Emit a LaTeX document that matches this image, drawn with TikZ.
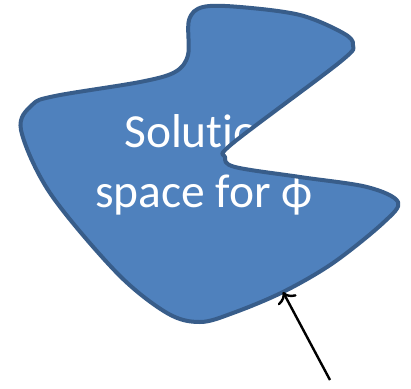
\documentclass[tikz,border=0pt]{standalone}
\usepackage{fontspec}
\setmainfont{Carlito}[RawFeature=-liga]
\usetikzlibrary{arrows.meta}
\definecolor{blobfill}{HTML}{4F81BD}
\definecolor{blobline}{HTML}{385D8A}
\tikzset{
  blobfillstyle/.style={fill=blobfill},
  bloblinestyle/.style={draw=blobline, line width=4pt, line join=round},
  lbl/.style={text=white, font=\fontsize{47.5}{60}\selectfont, anchor=base, inner sep=0pt},
  pointer/.style={line width=2.4pt, -{To[length=10pt,width=21pt,line width=2.4pt]}}
}
\begin{document}
\begin{tikzpicture}[x=1pt,y=-1pt]
\useasboundingbox (0,0) rectangle (411,388);
\def\blobpath{plot[smooth cycle, tension=0.55] coordinates {
(203,7) (240,7) (300,15) (343,33) (353,45) (340,62) (233,143) (225,157)
(235,167) (300,177) (367,187) (398,202) (383,223) (333,263) (283,292)
(233,313) (200,322) (167,313) (117,273) (50,193) (21,130) (32,105)
(55,96) (140,82) (175,72) (188,55) (189,20)}}
\fill[blobfillstyle] \blobpath;
\node[lbl] (line1) at (204,147) {Solution};
\node[lbl] (line2) at (204,207) {space for ϕ};
\draw[bloblinestyle] \blobpath;
\coordinate (tail) at (330,380);
\coordinate (head) at (283,292);
\draw[pointer] (tail) -- (head);
\end{tikzpicture}
\end{document}
